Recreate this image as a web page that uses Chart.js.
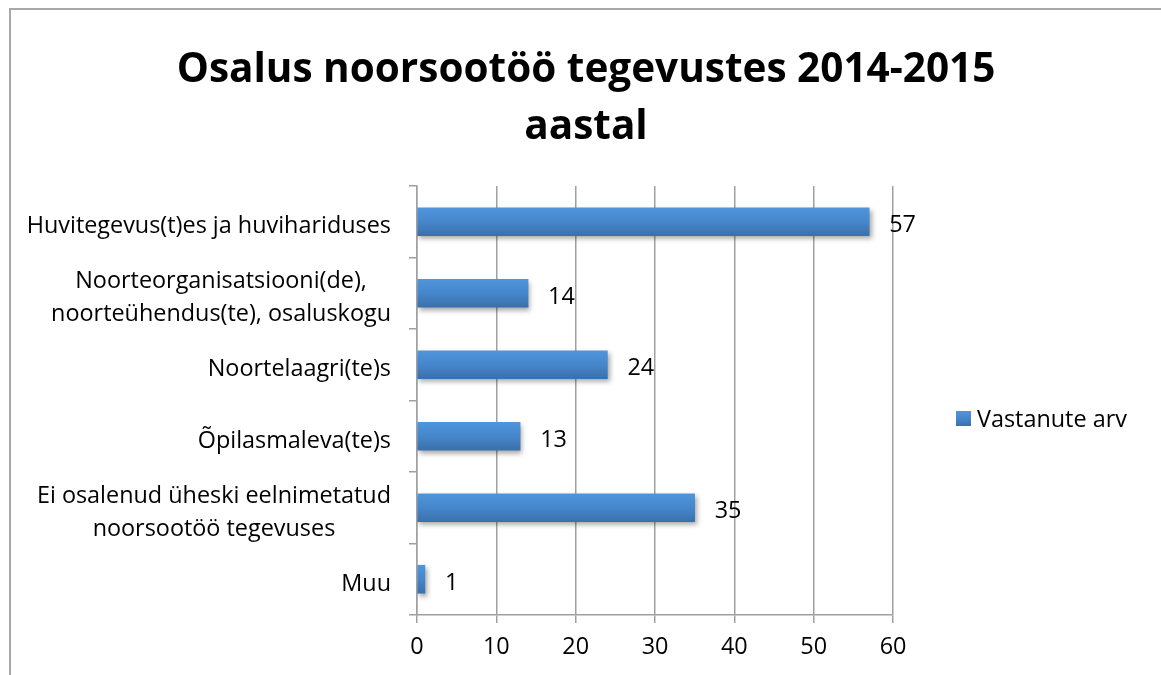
<!DOCTYPE html>
<html><head><meta charset="utf-8">
<script src="https://cdn.jsdelivr.net/npm/chart.js@4/dist/chart.umd.min.js"></script>
<style>
html,body{margin:0;padding:0;background:#fff;}
#wrap{position:relative;width:1161px;height:675px;overflow:hidden;background:#fff;}
#frame{position:absolute;left:9px;top:8px;width:1200px;height:700px;border-left:2px solid #a8a8a8;border-top:2px solid #a8a8a8;}
canvas{position:absolute;left:0;top:0;}
</style></head><body>
<div id="wrap"><div id="frame"></div><canvas id="c" width="1161" height="675"></canvas></div>
<script>
const chartTitle = ['Osalus noorsootöö tegevustes 2014-2015', 'aastal'];
const categories = [
  'Huvitegevus(t)es ja huvihariduses',
  ['Noorteorganisatsiooni(de),', 'noorteühendus(te), osaluskogu'],
  'Noortelaagri(te)s',
  'Õpilasmaleva(te)s',
  ['Ei osalenud üheski eelnimetatud', 'noorsootöö tegevuses'],
  'Muu'
];
const seriesName = 'Vastanute arv';
const values = [57, 14, 24, 13, 35, 1];
const xTicks = [0, 10, 20, 30, 40, 50, 60];

const FONT = '"Open Sans", Lato, sans-serif';
const TXT = 23.4;
const GRID = '#a0a0a0';

function barGradient(ctx, yMid, half) {
  const g = ctx.createLinearGradient(0, yMid - half, 0, yMid + half);
  g.addColorStop(0, '#4f95dc');
  g.addColorStop(0.5, '#4686cb');
  g.addColorStop(1, '#3a70ab');
  return g;
}

const shadowPlugin = {
  id: 'shadow',
  beforeDatasetsDraw(chart) {
    const c = chart.ctx; c.save();
    c.shadowColor = 'rgba(0,0,0,0.35)';
    c.shadowBlur = 5; c.shadowOffsetX = 2; c.shadowOffsetY = 3;
  },
  afterDatasetsDraw(chart) { chart.ctx.restore(); }
};

const labelsPlugin = {
  id: 'customText',
  afterDraw(chart) {
    const c = chart.ctx, ys = chart.scales.y, area = chart.chartArea;
    c.save();
    c.fillStyle = '#000';
    c.font = TXT + 'px ' + FONT;
    c.textBaseline = 'middle';
    // category labels: lines centred within each label, block right-aligned
    c.textAlign = 'center';
    const right = ys.right - 8 - 18;
    categories.forEach((lab, i) => {
      const lines = Array.isArray(lab) ? lab : [lab];
      const w = Math.max(...lines.map(l => c.measureText(l).width));
      const cx = right - w / 2;
      const cy = ys.getPixelForValue(i) + 5;
      const lh = 33;
      lines.forEach((l, k) => c.fillText(l, cx, cy + (k - (lines.length - 1) / 2) * lh));
    });
    // value labels
    c.textAlign = 'left';
    const meta = chart.getDatasetMeta(0);
    meta.data.forEach((bar, i) => {
      c.fillText(String(values[i]), bar.x + 20, bar.y + 4);
    });
    // legend
    const ly = (area.top + area.bottom) / 2 + 18;
    const bx = area.right + 63;
    c.fillStyle = barGradient(c, ly, 7.5);
    c.fillRect(bx, ly - 7.5, 15, 15);
    c.fillStyle = '#000';
    c.fillText(seriesName, bx + 21, ly + 2);
    c.restore();
  }
};

new Chart(document.getElementById('c'), {
  type: 'bar',
  data: {
    labels: categories,
    datasets: [{
      label: seriesName,
      data: values,
      backgroundColor: (ctx) => {
        const ch = ctx.chart;
        if (!ch.chartArea || ctx.dataIndex === undefined) return '#4686cb';
        const y = ch.scales.y.getPixelForValue(ctx.dataIndex);
        return barGradient(ch.ctx, y, 14);
      },
      borderWidth: 0,
      barThickness: 28
    }]
  },
  options: {
    indexAxis: 'y',
    responsive: false,
    animation: false,
    devicePixelRatio: 1,
    layout: { padding: { left: 11, right: 0, top: 0, bottom: 0 } },
    plugins: {
      legend: { display: false },
      tooltip: { enabled: false },
      title: {
        display: true,
        text: chartTitle,
        color: '#000',
        font: { family: FONT, size: 40.5, weight: 'bold', lineHeight: 1.4 },
        padding: { top: 42.6, bottom: 30 }
      }
    },
    scales: {
      x: {
        min: 0, max: 60,
        afterBuildTicks: (s) => { s.ticks = xTicks.map(v => ({ value: v })); },
        afterFit: (s) => { s.height = 60; s.paddingRight = 268; },
        grid: { color: GRID, lineWidth: 1.5, tickLength: 8, drawTicks: true },
        border: { color: GRID, width: 1.5 },
        ticks: { color: '#000', font: { family: FONT, size: TXT }, padding: 10 }
      },
      y: {
        afterFit: (s) => { s.width = 406; },
        grid: { offset: true, drawOnChartArea: false, color: GRID, lineWidth: 1.5, tickLength: 8 },
        border: { color: GRID, width: 1.5 },
        ticks: { display: false }
      }
    }
  },
  plugins: [shadowPlugin, labelsPlugin]
});
</script>
</body></html>
